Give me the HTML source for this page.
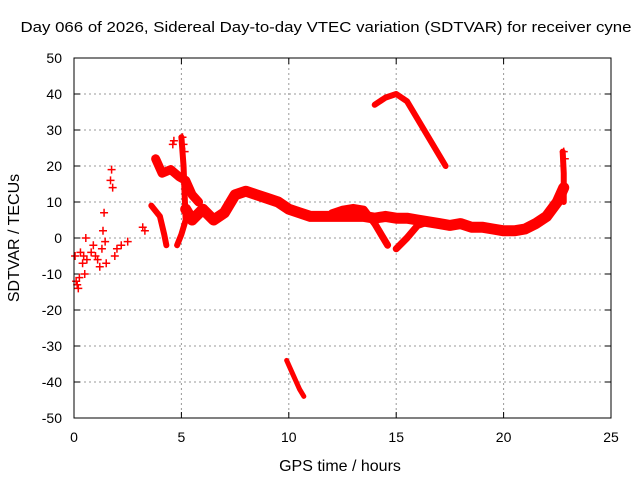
<!DOCTYPE html>
<html><head><meta charset="utf-8"><style>
body{margin:0;background:#fff}
svg{display:block;font-family:"Liberation Sans",sans-serif}
</style></head><body>
<svg id="chart" width="640" height="480">
<text x="326" y="32" font-size="15" text-anchor="middle" textLength="611" lengthAdjust="spacingAndGlyphs">Day 066 of 2026, Sidereal Day-to-day VTEC variation (SDTVAR) for receiver cyne</text>
<text x="340" y="471" font-size="16" text-anchor="middle">GPS time / hours</text>
<text transform="translate(19,238) rotate(-90)" font-size="16" text-anchor="middle">SDTVAR / TECUs</text>
<g id="grid"></g><g id="ticks"></g><g id="marks"></g>
<rect x="74" y="58" width="537" height="360" fill="none" stroke="#000" stroke-width="1"/>
</svg>
<script>
const xTicks=[0,5,10,15,20,25];
const yTicks=[50,40,30,20,10,0,-10,-20,-30,-40,-50];
// band series (time, value) drawn as thick traces
const mainBand=[[5.2,8],[5.5,5],[6,8],[6.5,5],[7,7],[7.5,12],[8,13],[8.5,12],[9,11],[9.5,10],[10,8],[10.5,7],[11,6],[11.5,6],[12,6],[12.5,6],[13,6],[13.5,6],[14,5.5],[14.5,6],[15,5.5],[15.5,5.5],[16,5],[16.5,4.5],[17,4],[17.5,3.5],[18,4],[18.5,3],[19,3],[19.5,2.5],[20,2],[20.5,2],[21,2.5],[21.5,4],[22,6],[22.5,10],[22.8,14]];
const branchDown=[[12,7],[12.5,8],[13,8.5],[13.5,8],[14,4],[14.3,1],[14.6,-2]];
const branchUp=[[15,-3],[15.5,0],[16,3.5],[16.5,4.5]];
const upperCurve=[[14,37],[14.5,39],[15,40],[15.5,38],[16,33],[16.5,28],[17,23],[17.3,20]];
const lowerCurve=[[9.9,-34],[10.2,-38],[10.5,-42],[10.7,-44]];
const earlyBand=[[3.8,22],[4.1,18],[4.5,19],[4.9,17],[5.2,16],[5.5,12],[5.8,10]];
const vBand=[[3.6,9],[4.0,6],[4.2,1],[4.3,-2]];
const spikeBand=[[5.0,28],[5.1,20],[5.15,12],[5.2,5],[5.0,1],[4.8,-2]];
const endSpike=[[22.75,24],[22.8,18],[22.8,10]];
// sparse + markers
const crossT=[0.05,0.1,0.15,0.2,0.25,0.3,0.4,0.45,0.5,0.55,0.6,0.8,0.9,1.0,1.1,1.2,1.3,1.35,1.4,1.45,1.5,1.7,1.75,1.8,1.9,2.0,2.2,2.5,3.2,3.3,4.6,4.65,5.05,5.1,5.15,22.8,22.85];
const crossV=[-5,-12,-13,-14,-11,-4,-7,-5,-10,0,-6,-4,-2,-5,-6,-8,-3,2,7,-1,-7,16,19,14,-5,-3,-2,-1,3,2,26,27,28,26,24,24,22];
const X=t=>74+t*21.48, Y=v=>238-v*3.6;
const ns="http://www.w3.org/2000/svg";
const g=document.getElementById('grid'),tk=document.getElementById('ticks'),m=document.getElementById('marks');
function mk(tag,attrs,parent){const e=document.createElementNS(ns,tag);for(const k in attrs)e.setAttribute(k,attrs[k]);parent.appendChild(e);return e;}
xTicks.forEach(t=>{
 if(t>0&&t<25){const l=mk('line',{x1:X(t),x2:X(t),y1:58,y2:418,stroke:'#999','stroke-dasharray':'2,3'},g);
 
 }
 const s=mk('text',{x:X(t),y:442,'font-size':14,'text-anchor':'middle'},tk);s.textContent=t;
 
 
 mk('line',{x1:X(t),x2:X(t),y1:418,y2:412,stroke:'#000'},tk);mk('line',{x1:X(t),x2:X(t),y1:58,y2:64,stroke:'#000'},tk);
});
yTicks.forEach(v=>{
 if(v<50&&v>-50){const l=mk('line',{x1:74,x2:611,y1:Y(v),y2:Y(v),stroke:'#999','stroke-dasharray':'2,3'},g);
 
 }
 const s=mk('text',{x:62,y:Y(v)+5,'font-size':14,'text-anchor':'end'},tk);s.textContent=v;
 
 
 mk('line',{x1:74,x2:80,y1:Y(v),y2:Y(v),stroke:'#000'},tk);mk('line',{x1:611,x2:605,y1:Y(v),y2:Y(v),stroke:'#000'},tk);
});
function band(arr,w,name){
 const p=mk('polyline',{points:arr.map(d=>X(d[0])+','+Y(d[1])).join(' '),fill:'none',stroke:'#f00','stroke-width':w,'stroke-linejoin':'round','stroke-linecap':'round'},m);
 
 
}
band(mainBand,11,'main-band');
band(branchDown,7,'branch-down');
band(branchUp,7,'branch-up');
band(upperCurve,6,'upper-curve');
band(lowerCurve,5,'lower-curve');
band(earlyBand,9,'early-band');
band(vBand,6,'v-band');
band(spikeBand,6,'spike-band');
band(endSpike,6,'end-spike');
crossT.forEach((t,i)=>{
 const x=X(t),y=Y(crossV[i]);
 const p=mk('path',{d:`M${x-4},${y}H${x+4}M${x},${y-4}V${y+4}`,stroke:'#f00','stroke-width':1.5},m);
 
 
});
</script>
</body></html>
